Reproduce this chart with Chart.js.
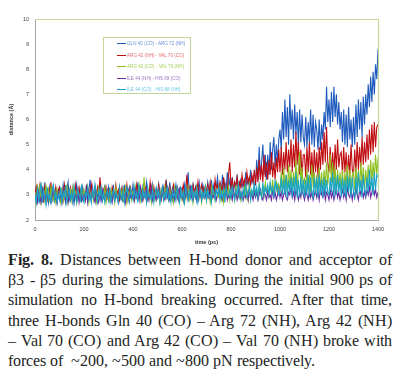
<!DOCTYPE html>
<html>
<head>
<meta charset="utf-8">
<script src="https://cdn.jsdelivr.net/npm/chart.js@4.4.1/dist/chart.umd.min.js"></script>
<style>
  @font-face { font-family: CapSerif; font-weight: 400; src: local("Liberation Serif"), local("LiberationSerif"), local("LiberationSerif-Regular"), local("Tinos"), local("DejaVu Serif"), local("DejaVuSerif"); }
  @font-face { font-family: CapSerif; font-weight: 700; src: local("Liberation Serif Bold"), local("LiberationSerif-Bold"), local("Tinos Bold"), local("DejaVu Serif Bold"), local("DejaVuSerif-Bold"); }
  html, body { margin:0; padding:0; background:#fff; }
  body { width:400px; height:379px; position:relative; overflow:hidden; }
  .plot { position:absolute; left:0; top:0; width:400px; height:250px; }
  .legend { position:absolute; left:103px; top:37px; width:88px; height:57px; border:1px solid #c3d69b; box-sizing:border-box; font-family:"Liberation Sans", Arial, sans-serif; font-size:4.6px; }
  .legend .it { position:absolute; left:13px; height:8px; line-height:8px; white-space:nowrap; }
  .legend .it i { display:inline-block; width:9px; height:1px; vertical-align:middle; margin-right:1px; }
  .caption { position:absolute; left:8px; top:250px; width:384px; font-family:CapSerif, "Liberation Serif", "DejaVu Serif", serif; font-size:16px; color:#222; line-height:20.2px; }
  .caption div { white-space:nowrap; text-align:justify; text-align-last:justify; }
  .caption div.last { text-align-last:left; }
</style>
</head>
<body>
<div class="plot"><canvas id="chart" width="400" height="250"></canvas></div>
<div class="legend" id="legend"></div>
<div class="caption">
  <div><b>Fig. 8.</b> Distances between H-bond donor and acceptor of</div>
  <div>β3 - β5 during the simulations. During the initial 900 ps of</div>
  <div>simulation no H-bond breaking occurred. After that time,</div>
  <div>three H-bonds Gln 40 (CO) – Arg 72 (NH), Arg 42 (NH)</div>
  <div>– Val 70 (CO) and Arg 42 (CO) – Val 70 (NH) broke with</div>
  <div class="last">forces of &nbsp;~200, ~500 and ~800 pN respectively.</div>
</div>
<script>
// ---- dados (um valor a cada 5 ps, 0..1400; cada linha = 50 ps) ----
const TIME_STEP = 5;
const X_TICKS = [0, 200, 400, 600, 800, 1000, 1200, 1400];
const Y_TICKS = [2, 3, 4, 5, 6, 7, 8, 9, 10];

const LABELS = [
  'GLN 40 (CO) - ARG 72 (NH)',
  'ARG 42 (NH) - VAL 70 (CO)',
  'ARG 42 (CO) - VAL 70 (NH)',
  'ILE 44 (NH) - HIS 69 (CO)',
  'ILE 44 (CO) - HIS 68 (NH)'
];
const COLORS = ['#1f5bbd', '#c00d12', '#8fbf1d', '#6b2aa3', '#19a6c6'];
const LEGEND_TEXT = ['#6a90d6', '#e06a6c', '#a8cc5a', '#9a75c2', '#6ccbe0'];

const gln40_arg72 = [
  3.2,2.8,3.4,2.9,2.7,3.3,3.0,2.8,3.5,2.9,
  3.1,2.7,3.3,3.0,2.8,3.4,2.9,3.2,2.7,3.1,
  3.3,2.9,2.8,3.4,3.0,2.7,3.2,3.5,2.8,3.0,
  2.9,3.3,2.7,3.1,3.4,2.8,3.0,3.2,2.7,3.3,
  3.0,2.8,3.4,2.9,3.2,3.6,2.8,3.1,2.9,3.3,
  2.7,3.2,3.0,3.5,2.8,3.1,2.9,3.4,2.8,3.0,
  3.3,2.8,3.1,2.9,3.4,2.7,3.2,3.0,2.8,3.3,
  2.9,3.2,2.7,3.4,3.0,2.8,3.1,3.3,2.9,3.0,
  3.4,2.8,3.2,3.0,3.5,2.9,3.1,2.8,3.3,3.0,
  2.9,3.5,3.1,2.8,3.3,3.0,3.4,2.9,3.2,3.1,
  3.0,3.4,2.8,3.2,3.0,3.3,2.9,3.6,3.1,2.9,
  3.5,3.0,2.8,3.3,3.1,3.4,2.9,3.2,3.0,3.3,
  3.2,2.8,3.4,3.0,3.3,3.9,3.0,3.2,2.9,3.4,
  3.1,3.3,2.8,3.2,3.5,3.0,2.9,3.4,3.1,3.2,
  3.0,3.5,3.2,2.9,3.6,3.1,3.4,3.0,3.3,3.7,
  3.1,3.4,3.0,3.8,3.2,3.5,3.1,3.9,3.3,3.6,
  3.2,3.7,3.1,3.5,3.3,3.8,3.2,3.4,3.6,3.3,
  3.5,3.2,3.9,3.4,3.6,3.3,4.0,3.5,3.7,3.4,
  3.4,4.4,3.6,4.9,3.7,4.3,5.0,3.8,4.6,3.6,
  4.6,3.8,5.1,4.0,4.8,5.3,4.1,5.0,4.3,5.2,
  5.6,4.8,6.3,5.2,6.8,5.3,6.5,5.0,7.0,5.6,
  6.4,5.2,6.6,5.4,6.3,5.0,6.4,5.1,6.2,5.3,
  5.0,6.1,4.9,5.9,5.1,6.4,5.0,6.2,4.9,5.9,
  5.6,4.8,6.0,4.8,5.8,5.2,6.3,5.6,7.3,5.9,
  6.8,5.7,7.1,5.9,7.3,6.1,7.0,5.8,6.7,5.6,
  6.3,5.1,6.4,5.0,6.2,4.9,6.5,5.2,6.0,4.9,
  6.1,5.0,6.6,5.3,6.8,5.6,6.7,5.3,6.9,5.8,
  7.0,6.2,7.4,6.5,7.7,6.7,7.9,7.0,8.2,7.6,
  8.8
];
const arg42nh_val70 = [
  3.0,3.3,2.8,3.1,3.4,2.9,3.2,2.7,3.3,3.0,
  2.8,3.2,3.0,3.5,2.9,3.1,2.8,3.3,3.0,3.2,
  3.3,2.9,3.1,2.8,3.4,3.0,3.2,2.8,3.1,3.3,
  2.9,3.2,3.0,3.4,2.8,3.1,3.3,2.9,3.0,3.2,
  3.1,2.8,3.3,3.0,3.2,2.9,3.4,3.0,2.8,3.2,
  3.0,3.3,2.9,3.7,3.1,2.8,3.2,3.0,3.3,2.9,
  3.2,3.0,2.8,3.3,3.1,2.9,3.4,3.0,3.2,2.8,
  3.1,3.3,2.9,3.2,3.0,3.4,2.8,3.1,3.3,3.0,
  2.9,3.2,3.0,3.4,2.9,3.1,3.3,3.0,2.8,3.2,
  3.3,3.0,3.2,2.9,3.5,3.1,3.0,3.3,2.9,3.2,
  3.0,3.4,3.1,2.9,3.3,3.0,3.2,3.5,3.0,3.1,
  3.3,2.9,3.2,3.4,3.0,3.1,3.3,2.9,3.2,3.0,
  3.1,3.4,3.0,3.2,3.8,3.1,3.3,3.0,3.2,3.4,
  3.0,3.3,3.1,3.5,2.9,3.2,3.4,3.0,3.3,3.1,
  3.2,3.4,3.0,3.5,3.1,3.3,3.0,3.6,3.2,3.4,
  3.1,3.5,3.3,3.2,3.7,3.1,3.4,3.2,3.8,4.3,
  3.3,3.6,3.2,3.5,3.4,3.7,3.2,3.5,3.3,3.8,
  3.4,3.6,3.3,3.9,3.5,3.7,3.4,3.8,3.5,4.0,
  3.4,4.1,3.5,4.4,3.6,4.2,3.5,4.6,3.7,4.3,
  3.6,4.4,3.8,4.7,3.7,4.3,3.6,4.5,3.9,4.8,
  3.9,4.9,3.8,4.7,4.0,5.1,3.9,4.8,4.1,5.2,
  3.9,5.0,4.1,5.5,4.2,5.1,3.8,4.8,3.7,4.6,
  4.6,3.7,4.9,3.9,5.1,3.8,4.7,3.7,4.8,3.9,
  4.7,3.7,4.9,4.0,5.1,4.2,5.5,4.3,5.7,4.3,
  3.9,4.9,3.8,4.7,3.8,5.0,4.0,5.2,4.1,4.6,
  4.7,3.8,4.9,3.9,4.7,3.7,4.6,3.8,5.0,4.0,
  3.8,4.8,3.9,5.1,4.0,4.9,4.1,5.3,4.2,5.1,
  4.3,5.4,4.4,5.6,4.6,5.8,4.7,5.9,4.9,5.7,
  5.8
];
const arg42co_val70 = [
  3.1,2.7,3.3,2.9,3.4,2.7,3.0,3.2,2.8,3.4,
  2.9,3.2,2.7,3.3,3.0,2.8,3.1,2.7,3.2,2.9,
  3.0,2.7,3.3,2.8,3.1,2.9,3.4,2.7,3.0,3.2,
  2.8,3.3,2.9,3.1,2.7,3.2,3.0,2.8,3.3,2.9,
  3.2,2.8,3.0,3.3,2.7,3.1,2.9,3.2,2.8,3.0,
  2.7,3.1,3.3,2.9,3.2,2.8,3.0,3.3,2.7,3.1,
  3.0,2.8,3.2,2.9,3.1,2.7,3.3,3.0,2.8,3.1,
  2.9,3.2,2.8,3.0,3.3,2.7,3.1,2.9,3.2,2.8,
  3.1,2.8,3.3,2.9,3.0,3.4,2.8,3.2,2.9,3.7,
  3.0,2.8,3.2,2.9,3.1,2.7,3.3,3.0,2.8,3.2,
  2.9,3.1,2.7,3.2,3.0,2.8,3.3,2.9,3.1,2.8,
  3.2,2.9,3.0,2.7,3.3,2.9,3.1,2.8,3.2,3.0,
  2.8,3.1,2.6,3.2,2.9,3.3,2.8,3.0,3.2,2.7,
  3.1,2.9,3.3,2.8,3.0,3.2,2.7,3.1,2.9,3.3,
  2.8,3.2,3.0,2.7,3.3,2.9,3.1,2.8,3.2,3.0,
  2.9,3.3,2.8,3.1,2.7,3.2,3.0,2.9,3.3,2.8,
  3.1,2.9,3.2,2.8,3.3,3.0,2.9,3.2,2.8,3.1,
  3.0,3.3,2.9,3.2,2.8,3.4,3.0,3.1,2.9,3.3,
  3.0,3.2,2.9,3.4,3.1,2.9,3.3,3.0,3.5,3.1,
  3.2,3.0,3.4,3.1,3.6,3.0,3.3,3.5,3.1,3.4,
  3.2,3.9,3.1,4.1,3.3,3.8,3.1,4.2,3.3,4.0,
  3.2,3.9,3.3,4.4,3.3,4.0,4.7,3.4,4.1,3.2,
  3.7,3.1,4.0,3.2,3.8,3.1,4.2,3.3,3.9,3.1,
  3.8,3.1,4.1,3.2,3.9,3.1,4.0,3.3,4.3,3.4,
  4.0,4.6,3.5,4.3,3.3,4.1,3.2,4.0,3.3,3.9,
  3.2,4.0,3.1,3.9,3.3,4.2,3.2,4.0,3.1,3.8,
  3.9,3.2,4.1,3.3,4.0,3.2,4.3,3.4,4.1,3.2,
  4.0,3.3,4.2,3.4,4.4,3.5,4.3,3.6,4.6,3.8,
  4.5
];
const ile44nh_his69 = [
  2.8,3.0,2.7,3.1,2.9,2.7,3.2,2.8,3.0,2.7,
  3.1,2.8,2.9,2.7,3.0,3.2,2.8,2.9,2.7,3.1,
  2.8,3.0,2.7,3.2,2.9,2.8,3.1,2.7,3.0,2.8,
  3.1,2.7,2.9,3.0,2.8,3.2,2.7,3.0,2.9,2.8,
  3.0,2.8,3.2,2.7,3.1,2.9,2.8,3.3,2.9,2.7,
  3.1,2.9,2.7,3.0,2.8,3.2,2.9,2.8,3.0,3.1,
  2.8,3.1,2.9,2.7,3.2,2.8,3.0,2.9,2.7,3.1,
  2.9,2.8,3.1,3.0,2.7,3.2,2.9,2.8,3.1,2.9,
  3.0,2.8,3.2,2.9,3.1,2.8,3.3,3.0,2.8,3.1,
  2.9,3.2,2.8,3.0,2.9,3.3,2.8,3.1,3.0,2.8,
  3.1,2.9,3.0,2.8,3.2,2.9,2.8,3.1,2.9,3.2,
  2.8,3.0,2.9,3.2,2.8,3.1,3.0,2.8,3.2,2.9,
  3.0,2.8,3.1,2.9,3.2,2.8,3.0,3.3,2.9,2.8,
  3.1,2.9,3.0,2.8,3.2,3.0,2.8,3.1,2.9,3.0,
  2.8,3.1,2.9,3.2,2.8,3.0,2.9,3.1,2.8,3.0,
  3.2,2.9,3.0,2.8,3.1,2.9,3.3,2.8,3.0,2.9,
  3.0,2.8,3.2,2.9,3.1,2.8,3.0,3.2,2.9,3.1,
  2.8,3.0,2.9,3.1,2.8,3.2,2.9,3.0,2.8,3.1,
  2.9,3.1,2.8,3.0,3.2,2.9,2.8,3.1,3.0,2.8,
  3.1,2.9,3.0,2.8,3.2,2.9,3.1,2.8,3.0,3.2,
  2.9,3.1,2.8,3.0,3.2,2.9,2.8,3.1,3.0,3.3,
  2.9,3.1,2.8,3.2,3.0,2.8,3.1,2.9,3.3,3.0,
  2.8,3.1,3.0,2.8,3.2,2.9,3.1,2.8,3.0,3.2,
  2.9,3.1,2.8,3.3,3.0,2.9,3.2,2.8,3.1,3.0,
  2.8,3.2,2.9,3.1,2.8,3.0,3.3,2.9,3.1,2.8,
  3.0,3.2,2.9,3.1,2.8,3.3,3.0,2.9,3.2,2.8,
  3.1,2.9,3.3,3.0,2.8,3.2,3.0,3.4,2.9,3.1,
  2.9,3.2,3.0,3.3,2.9,3.1,3.4,3.0,3.2,2.9,
  3.1
];
const ile44co_his68 = [
  3.0,2.7,3.3,2.8,3.1,3.5,2.7,3.2,2.9,2.6,
  3.3,2.8,3.0,2.7,3.2,3.4,2.8,3.1,2.7,3.0,
  2.8,3.3,2.7,3.1,2.9,3.4,2.7,3.0,3.2,2.8,
  3.1,2.7,3.3,2.9,2.7,3.2,3.0,2.8,3.4,2.9,
  2.7,3.1,2.9,3.3,2.8,3.0,2.7,3.2,2.9,3.4,
  3.0,2.7,3.2,2.9,3.3,2.8,3.1,2.7,3.0,3.2,
  2.8,3.3,2.7,3.0,3.2,2.8,3.1,2.9,2.7,3.3,
  3.0,2.8,3.2,2.7,3.1,3.3,2.9,2.7,3.2,3.0,
  2.8,3.3,2.9,3.1,2.7,3.4,3.0,2.8,3.2,2.9,
  3.1,2.7,3.3,2.9,3.0,2.8,3.2,2.7,3.1,3.3,
  2.9,3.2,2.7,3.0,3.3,2.8,3.1,2.9,3.4,2.8,
  3.0,2.7,3.2,2.9,3.1,2.8,3.3,3.0,2.7,3.2,
  2.9,3.1,2.7,3.3,3.0,2.8,3.2,2.9,3.4,2.8,
  3.1,2.9,3.3,2.7,3.0,3.2,2.8,3.1,2.9,3.3,
  2.8,3.2,2.9,3.0,2.7,3.3,3.1,2.8,3.2,3.0,
  3.3,2.8,3.1,2.9,3.2,2.7,3.4,3.0,2.9,3.2,
  2.9,3.3,3.0,2.8,3.2,3.0,3.4,2.9,3.1,2.8,
  3.2,3.0,3.4,2.9,3.1,3.3,2.8,3.2,3.0,3.5,
  3.0,3.3,2.9,3.4,3.1,2.9,3.5,3.0,3.3,3.1,
  3.4,3.0,3.5,3.1,3.3,2.9,3.6,3.2,3.4,3.0,
  3.1,3.7,3.0,3.6,3.0,3.8,2.9,3.6,3.1,3.7,
  2.9,3.7,3.0,3.9,2.9,3.6,2.9,3.7,3.0,3.6,
  2.9,3.6,3.0,3.8,2.9,3.7,3.1,2.9,3.7,3.0,
  3.7,2.9,3.8,3.0,3.6,2.9,3.7,3.0,3.6,3.1,
  3.0,3.7,3.1,3.9,2.9,3.7,3.0,3.8,3.1,3.6,
  2.9,3.7,3.0,3.6,2.9,3.8,3.1,3.7,2.9,3.7,
  3.1,2.9,3.7,3.0,3.9,3.1,3.6,2.9,3.8,3.2,
  3.0,3.7,3.1,4.0,3.2,3.7,3.0,3.9,3.2,3.8,
  3.7
];
const SERIES = [gln40_arg72, arg42nh_val70, arg42co_val70, ile44nh_his69, ile44co_his68];

const toPts = arr => arr.map((v, i) => ({ x: i * TIME_STEP, y: v }));

// moldura verde em cima e à direita (como no Excel)
const frame = {
  id: 'frame',
  afterDatasetsDraw(chart){
    const { ctx, chartArea: a } = chart;
    ctx.save();
    ctx.strokeStyle = '#c3d69b';
    ctx.lineWidth = 1.2;
    ctx.beginPath();
    ctx.moveTo(a.left, a.top + 0.5);
    ctx.lineTo(a.right + 0.5, a.top + 0.5);
    ctx.lineTo(a.right + 0.5, a.bottom);
    ctx.stroke();
    ctx.restore();
  }
};

const tickFont = { family: '"Liberation Sans", Arial, sans-serif', size: 5.5 };

new Chart(document.getElementById('chart'), {
  type: 'line',
  data: {
    datasets: SERIES.map((s, i) => ({
      label: LABELS[i], data: toPts(s),
      borderColor: COLORS[i], borderWidth: 1.1, pointRadius: 0, tension: 0, fill: false,
      order: SERIES.length - i
    }))
  },
  options: {
    responsive: false, animation: false,
    layout: { padding: { left: 8, right: 22, top: 19, bottom: 4 } },
    plugins: { legend: { display: false }, tooltip: { enabled: false } },
    scales: {
      x: {
        type: 'linear', min: 0, max: 1400,
        afterBuildTicks: sc => { sc.ticks = X_TICKS.map(v => ({ value: v })); },
        afterFit: sc => { sc.height = 26; },
        grid: { display: false, drawTicks: false },
        border: { color: '#a6a6a6', width: 1 },
        ticks: { font: tickFont, color: '#444', padding: 6, maxRotation: 0, callback: v => String(v) },
        title: { display: true, text: 'time (ps)', font: { ...tickFont, weight: 'bold' }, color: '#333', padding: { top: 2, bottom: 0 } }
      },
      y: {
        min: 2, max: 10,
        afterBuildTicks: sc => { sc.ticks = Y_TICKS.map(v => ({ value: v })); },
        afterFit: sc => { sc.width = 27; },
        grid: { display: false, drawTicks: false },
        border: { color: '#a6a6a6', width: 1 },
        ticks: { font: tickFont, color: '#444', padding: 6, callback: v => String(v) },
        title: { display: true, text: 'distance (Å)', font: { ...tickFont, weight: 'bold' }, color: '#333', padding: { top: 0, bottom: 2 } }
      }
    }
  },
  plugins: [frame]
});

// legenda em HTML dentro da área do gráfico
const leg = document.getElementById('legend');
LABELS.forEach((lab, i) => {
  const d = document.createElement('div');
  d.className = 'it';
  d.style.top = (2 + i * 11.5) + 'px';
  d.style.color = LEGEND_TEXT[i];
  d.innerHTML = `<i style="background:${COLORS[i]}"></i>${lab}`;
  leg.appendChild(d);
});
</script>
</body>
</html>
